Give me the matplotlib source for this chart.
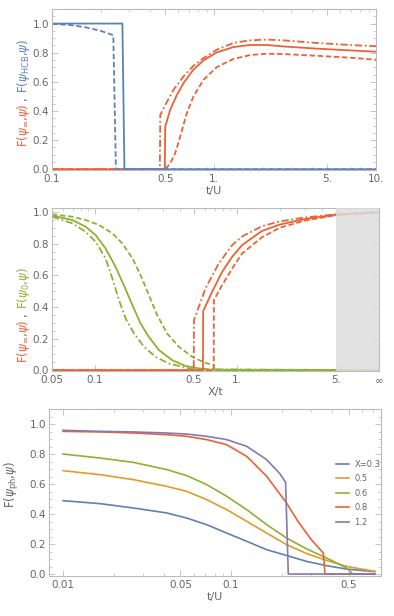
import matplotlib.pyplot as plt
from matplotlib.ticker import FixedLocator, NullFormatter

# Mathematica-like palette
BLUE = '#5E81B5'
ORANGE = '#E19C24'
GREEN = '#8FB032'
RED = '#EB6235'
PURPLE = '#8778B3'
GREY = '#666666'
FRAME = '#BBBBBB'

# ---------------- panel 1 data: fidelity vs t/U ----------------
hcb_solid_x = [0.1, 0.272, 0.28, 10.0]
hcb_solid_y = [1.0, 1.0, 0.0, 0.0]
hcb_dash_x = [0.1, 0.13, 0.16, 0.2, 0.239, 0.248, 10.0]
hcb_dash_y = [0.998, 0.99, 0.975, 0.95, 0.92, 0.0, 0.0]

inf1_solid_x = [0.1, 0.497, 0.5, 0.536, 0.59, 0.648, 0.746, 0.861, 1.04, 1.318, 1.67, 2.12, 2.68, 4.3, 6.9, 10.0]
inf1_solid_y = [0.0, 0.0, 0.292, 0.407, 0.51, 0.591, 0.683, 0.747, 0.802, 0.839, 0.853, 0.853, 0.843, 0.828, 0.816, 0.807]
inf1_dd_x = [0.1, 0.463, 0.466, 0.5, 0.562, 0.648, 0.746, 0.861, 1.04, 1.318, 1.67, 2.12, 2.68, 4.3, 6.9, 10.0]
inf1_dd_y = [0.0, 0.0, 0.372, 0.441, 0.545, 0.637, 0.71, 0.763, 0.821, 0.867, 0.885, 0.89, 0.885, 0.867, 0.853, 0.844]
inf1_dash_x = [0.1, 0.5, 0.536, 0.575, 0.618, 0.679, 0.746, 0.861, 1.04, 1.318, 1.67, 2.12, 2.68, 4.3, 6.9, 10.0]
inf1_dash_y = [0.0, 0.0, 0.039, 0.108, 0.223, 0.384, 0.499, 0.614, 0.701, 0.757, 0.784, 0.793, 0.791, 0.779, 0.766, 0.752]

# ---------------- panel 2 data: fidelity vs X/t ----------------
psi0_solid_x = [0.05, 0.0695, 0.0861, 0.1014, 0.119, 0.140, 0.160, 0.184, 0.210, 0.240, 0.283, 0.351, 0.435, 0.541, 0.65, 10.0]
psi0_solid_y = [0.977, 0.949, 0.907, 0.854, 0.77, 0.654, 0.538, 0.411, 0.295, 0.211, 0.127, 0.063, 0.027, 0.011, 0.003, 0.0]
psi0_dash_x = [0.05, 0.0695, 0.0861, 0.107, 0.133, 0.156, 0.184, 0.210, 0.240, 0.275, 0.323, 0.391, 0.485, 0.601, 0.687, 0.69, 10.0]
psi0_dash_y = [0.985, 0.97, 0.949, 0.918, 0.865, 0.802, 0.707, 0.601, 0.475, 0.348, 0.232, 0.148, 0.084, 0.046, 0.032, 0.0, 0.0]
psi0_dd_x = [0.05, 0.0695, 0.0861, 0.1014, 0.119, 0.133, 0.148, 0.165, 0.189, 0.222, 0.268, 0.333, 0.435, 0.499, 10.0]
psi0_dd_y = [0.97, 0.928, 0.875, 0.812, 0.707, 0.58, 0.443, 0.327, 0.232, 0.148, 0.084, 0.042, 0.017, 0.006, 0.0]

inf2_dd_x = [0.05, 0.497, 0.499, 0.601, 0.746, 0.927, 1.09, 1.5, 2.0, 3.0, 5.0, 10.0]
inf2_dd_y = [0.0, 0.0, 0.316, 0.517, 0.675, 0.791, 0.845, 0.91, 0.94, 0.965, 0.985, 0.998]
inf2_solid_x = [0.05, 0.577, 0.579, 0.67, 0.788, 0.927, 1.09, 1.5, 2.0, 3.0, 5.0, 10.0]
inf2_solid_y = [0.0, 0.0, 0.373, 0.496, 0.622, 0.717, 0.791, 0.88, 0.92, 0.955, 0.983, 0.998]
inf2_dash_x = [0.05, 0.687, 0.689, 0.788, 0.927, 1.09, 1.5, 2.0, 3.0, 5.0, 10.0]
inf2_dash_y = [0.0, 0.0, 0.443, 0.538, 0.643, 0.738, 0.84, 0.9, 0.945, 0.98, 0.998]

# ---------------- panel 3 data: F(psi_ph, psi) vs t/U ----------------
t3 = [0.01, 0.0167, 0.0263, 0.0415, 0.0545, 0.0716, 0.0942, 0.124, 0.163, 0.214, 0.282, 0.370, 0.487, 0.716]
ph_x03 = [0.489, 0.469, 0.44, 0.407, 0.373, 0.329, 0.273, 0.218, 0.162, 0.124, 0.084, 0.056, 0.033, 0.016]
ph_x05 = [0.689, 0.662, 0.629, 0.584, 0.551, 0.496, 0.429, 0.351, 0.273, 0.196, 0.136, 0.091, 0.051, 0.018]
t3_x06 = [0.01, 0.0167, 0.0263, 0.0415, 0.0545, 0.0716, 0.0942, 0.124, 0.163, 0.214, 0.282, 0.370, 0.487, 0.53, 0.716]
ph_x06 = [0.8, 0.773, 0.744, 0.696, 0.656, 0.596, 0.518, 0.429, 0.329, 0.24, 0.167, 0.107, 0.04, 0.0, 0.0]
t3_x08 = [0.01, 0.0167, 0.0263, 0.0415, 0.0545, 0.0716, 0.0942, 0.124, 0.163, 0.214, 0.25, 0.3, 0.354, 0.362, 0.716]
ph_x08 = [0.951, 0.947, 0.94, 0.929, 0.918, 0.896, 0.862, 0.784, 0.651, 0.473, 0.351, 0.229, 0.14, 0.0, 0.0]
t3_x12 = [0.01, 0.0167, 0.0263, 0.0415, 0.0545, 0.0716, 0.0942, 0.124, 0.163, 0.195, 0.211, 0.219, 0.716]
ph_x12 = [0.958, 0.951, 0.947, 0.94, 0.933, 0.918, 0.896, 0.851, 0.762, 0.669, 0.611, 0.0, 0.0]
legend_labels = ['X=0.3', '0.5', '0.6', '0.8', '1.2']

yticks = [0.0, 0.2, 0.4, 0.6, 0.8, 1.0]
ytick_labels = ['0.0', '0.2', '0.4', '0.6', '0.8', '1.0']

DASH = (0, (3, 1.5))
DASHDOT = (0, (4, 1.5, 1, 1.5))


def style_axes(ax, xmajor, xlabels, xminor):
    ax.set_xscale('log')
    for s in ax.spines.values():
        s.set_color(FRAME)
        s.set_linewidth(0.8)
    ax.xaxis.set_major_locator(FixedLocator(xmajor))
    ax.xaxis.set_minor_locator(FixedLocator(xminor))
    ax.set_xticklabels(xlabels)
    ax.xaxis.set_minor_formatter(NullFormatter())
    ax.set_yticks(yticks)
    ax.set_yticklabels(ytick_labels)
    ax.yaxis.set_minor_locator(FixedLocator([i * 0.05 for i in range(22)]))
    ax.tick_params(which='both', direction='in', top=True, right=True, color=FRAME,
                   labelcolor=GREY, labelsize=7.5, pad=2)
    ax.tick_params(axis='x', which='major', pad=3)
    ax.tick_params(which='major', length=4, width=0.6)
    ax.tick_params(which='minor', length=2, width=0.5)


fig = plt.figure(figsize=(3.94, 6.16), dpi=100)
W, H = 394.0, 616.0


def box(l, t, r, b):
    return [l / W, 1 - b / H, (r - l) / W, (b - t) / H]


lw = 1.3
LX = 23 / W

# ---- panel 1 ----
ax1 = fig.add_axes(box(52, 9, 376, 170))
ax1.plot(inf1_solid_x, inf1_solid_y, color=RED, lw=lw)
ax1.plot(inf1_dd_x, inf1_dd_y, color=RED, lw=lw, ls=DASHDOT)
ax1.plot(inf1_dash_x, inf1_dash_y, color=RED, lw=lw, ls=DASH)
ax1.plot(hcb_solid_x, hcb_solid_y, color=BLUE, lw=lw)
ax1.plot(hcb_dash_x, hcb_dash_y, color=BLUE, lw=lw, ls=DASH)
ax1.set_xlim(0.1, 10)
ax1.set_ylim(-0.005, 1.1)
style_axes(ax1, [0.1, 0.5, 1, 5, 10], ['0.1', '0.5', '1.', '5.', '10.'],
           [0.2, 0.3, 0.4, 0.6, 0.7, 0.8, 0.9, 2, 3, 4, 6, 7, 8, 9])
ax1.set_xlabel('t/U', color=GREY, fontsize=8, labelpad=1)

# two-coloured y label
fig.text(LX, 1 - 147 / H, r'F($\psi_\infty$,$\psi$)', color=RED, rotation=90,
         fontsize=8.5, ha='center', va='bottom')
fig.text(LX, 1 - 101 / H, ',', color=GREY, rotation=90,
         fontsize=8.5, ha='center', va='bottom')
fig.text(LX, 1 - 93 / H, r'F($\psi_{\mathrm{HCB}}$,$\psi$)', color=BLUE, rotation=90,
         fontsize=8.5, ha='center', va='bottom')

# ---- panel 2 ----
ax2 = fig.add_axes(box(52, 208, 379, 371))
ax2.plot(psi0_solid_x, psi0_solid_y, color=GREEN, lw=lw)
ax2.plot(psi0_dash_x, psi0_dash_y, color=GREEN, lw=lw, ls=DASH)
ax2.plot(psi0_dd_x, psi0_dd_y, color=GREEN, lw=lw, ls=DASHDOT)
ax2.plot(inf2_solid_x, inf2_solid_y, color=RED, lw=lw)
ax2.plot(inf2_dd_x, inf2_dd_y, color=RED, lw=lw, ls=DASHDOT)
ax2.plot(inf2_dash_x, inf2_dash_y, color=RED, lw=lw, ls=DASH)
# grey band for X/t -> infinity, drawn over the curves
ax2.axvspan(5, 10, color='#DDDDDD', alpha=0.85, zorder=3, lw=0)
ax2.set_xlim(0.05, 10)
ax2.set_ylim(-0.005, 1.025)
style_axes(ax2, [0.05, 0.1, 0.5, 1, 5, 10], ['0.05', '0.1', '0.5', '1.', '5.', r'$\infty$'],
           [0.06, 0.07, 0.08, 0.09, 0.2, 0.3, 0.4, 0.6, 0.7, 0.8, 0.9, 2, 3, 4])
ax2.set_xlabel('X/t', color=GREY, fontsize=8, labelpad=1)

fig.text(LX, 1 - 363 / H, r'F($\psi_\infty$,$\psi$)', color=RED, rotation=90,
         fontsize=8.5, ha='center', va='bottom')
fig.text(LX, 1 - 317 / H, ',', color=GREY, rotation=90,
         fontsize=8.5, ha='center', va='bottom')
fig.text(LX, 1 - 309 / H, r'F($\psi_0$,$\psi$)', color=GREEN, rotation=90,
         fontsize=8.5, ha='center', va='bottom')

# ---- panel 3 ----
ax3 = fig.add_axes(box(49, 409, 381, 576))
ax3.plot(t3, ph_x03, color=BLUE, lw=1.2, label=legend_labels[0])
ax3.plot(t3, ph_x05, color=ORANGE, lw=1.2, label=legend_labels[1])
ax3.plot(t3_x06, ph_x06, color=GREEN, lw=1.2, label=legend_labels[2])
ax3.plot(t3_x08, ph_x08, color=RED, lw=1.2, label=legend_labels[3])
ax3.plot(t3_x12, ph_x12, color=PURPLE, lw=1.2, label=legend_labels[4])
ax3.set_xlim(0.00825, 0.78)
ax3.set_ylim(-0.013, 1.1)
style_axes(ax3, [0.01, 0.05, 0.1, 0.5], ['0.01', '0.05', '0.1', '0.5'],
           [0.02, 0.03, 0.04, 0.06, 0.07, 0.08, 0.09, 0.2, 0.3, 0.4, 0.6, 0.7])
ax3.set_xlabel('t/U', color=GREY, fontsize=8, labelpad=1)
ax3.set_ylabel(r'F($\psi_{\mathrm{ph}}$,$\psi$)', color=GREY, fontsize=8.5)
ax3.yaxis.set_label_coords(-0.085, 0.55)
leg = ax3.legend(loc='upper left', bbox_to_anchor=(336 / W, 1 - 460 / H),
                 bbox_transform=fig.transFigure, fontsize=6, frameon=False,
                 borderpad=0, borderaxespad=0, handlelength=1.6,
                 handletextpad=0.6, labelspacing=0.65)
for t in leg.get_texts():
    t.set_color(GREY)

fig.savefig('out.png', dpi=100)
